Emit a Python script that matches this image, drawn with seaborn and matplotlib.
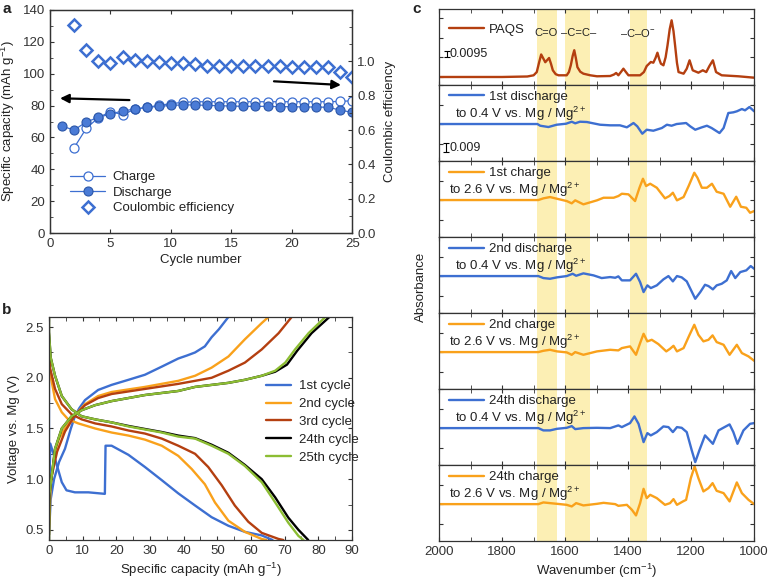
import numpy as np
import matplotlib
matplotlib.use("Agg")
import matplotlib.pyplot as plt
from matplotlib.ticker import MultipleLocator, NullFormatter, FormatStrFormatter
import seaborn as sns

# ---------------- data: panel a (cycling) ----------------
cycles_dis = list(range(1, 26))
discharge_cap = [67, 64.7, 69.7, 72.6, 74.7, 76.6, 77.8, 78.9, 79.5, 80.1, 80.4, 80.4, 80.1,
                 79.9, 79.7, 79.5, 79.5, 79.5, 79.3, 79.3, 79.1, 79.1, 78.9, 77.2, 75.7]
cycles_ch = list(range(2, 26))
charge_cap = [53.6, 65.7, 72.4, 76.2, 74.3, 77.6, 78.9, 80.1, 81.2, 82.0, 82.4, 82.4, 82.4,
              82.4, 82.4, 82.4, 82.4, 82.4, 82.4, 82.4, 82.4, 82.4, 82.6, 83.0]
coulombic_eff = [1.21, 1.068, 1.002, 0.99, 1.025, 1.01, 1.0, 0.994, 0.992, 0.988, 0.982, 0.975,
                 0.975, 0.975, 0.975, 0.973, 0.973, 0.971, 0.969, 0.969, 0.969, 0.969, 0.94, 0.91]

# ---------------- data: panel b (voltage profiles) ----------------
c1_dis_cap = [0, 0, 0.4, 1.8, 3.8, 5.2, 7.7, 11.7, 16.6, 16.8, 18.6, 23.6, 28.5, 33.5, 38.4,
              43.4, 48.3, 53.3, 58.2, 63.2, 66.4]
c1_dis_v = [2.2, 0.84, 1.35, 1.2, 0.97, 0.89, 0.87, 0.87, 0.855, 1.33, 1.33, 1.24, 1.12, 0.99,
            0.86, 0.74, 0.625, 0.54, 0.48, 0.445, 0.4]
c1_ch_cap = [0, 0.5, 1.5, 3, 4.75, 6.5, 7.7, 9, 10.7, 14.6, 18.6, 23.6, 28.5, 33.5, 38.4, 41,
             43.4, 46.3, 48.3, 50.5, 53.3]
c1_ch_v = [0.45, 0.8, 1.0, 1.17, 1.3, 1.5, 1.62, 1.7, 1.78, 1.88, 1.93, 1.98, 2.03, 2.11, 2.19,
           2.22, 2.25, 2.31, 2.4, 2.48, 2.6]

c2_dis_cap = [0, 0.3, 1.8, 3.8, 5.7, 8.7, 13.7, 18.6, 23.6, 28.5, 33.5, 38.4, 42.4, 46.3, 49.3,
              53.3, 58.2, 63.2, 64.6]
c2_dis_v = [2.25, 2.05, 1.79, 1.66, 1.59, 1.55, 1.50, 1.46, 1.43, 1.39, 1.33, 1.23, 1.10, 0.95,
            0.77, 0.59, 0.48, 0.41, 0.40]
c2_ch_cap = [0, 0.5, 1.8, 3, 4.75, 7.7, 10.7, 14.6, 18.6, 28.5, 38.4, 43.4, 48.3, 53.3, 58.2,
             63.2, 65.2]
c2_ch_v = [0.45, 0.95, 1.27, 1.4, 1.5, 1.63, 1.74, 1.82, 1.86, 1.91, 1.97, 2.02, 2.10, 2.21,
           2.38, 2.54, 2.6]

c3_dis_cap = [0, 0.3, 1.8, 3.8, 6.7, 9.7, 13.7, 18.6, 23.6, 28.5, 33.5, 38.4, 43.4, 47.3, 51.3,
              55.2, 59.2, 63.2, 68.2, 69.6]
c3_dis_v = [2.3, 2.1, 1.89, 1.74, 1.64, 1.59, 1.55, 1.52, 1.48, 1.45, 1.40, 1.33, 1.25, 1.12,
            0.94, 0.74, 0.58, 0.47, 0.41, 0.40]
c3_ch_cap = [0, 0.4, 2.4, 4.75, 7.7, 10.7, 14.6, 18.6, 28.5, 38.4, 43.4, 48.3, 53.3, 58.2,
             63.2, 68.2, 72.1]
c3_ch_v = [0.7, 0.97, 1.27, 1.47, 1.63, 1.73, 1.80, 1.84, 1.89, 1.94, 1.97, 2.0, 2.07, 2.15,
           2.28, 2.44, 2.6]

c24_dis_cap = [0, 0, 0.5, 1.8, 3.8, 6.7, 9.7, 13.7, 18.6, 23.6, 28.5, 33.5, 38.4, 43.4, 48.3,
               53.3, 58.2, 63.2, 67.2, 71.1, 74.1, 77.0]
c24_dis_v = [2.6, 2.45, 2.2, 2.02, 1.82, 1.69, 1.62, 1.59, 1.56, 1.525, 1.495, 1.465, 1.43,
             1.405, 1.34, 1.26, 1.14, 1.0, 0.82, 0.62, 0.5, 0.40]
c24_ch_cap = [0, 0.1, 1.8, 3.8, 6.7, 9.7, 13.7, 18.6, 28.5, 38.4, 43.4, 53.3, 58.2, 63.2, 67.2,
              70.7, 73.8, 78.0, 83.3]
c24_ch_v = [0.4, 0.84, 1.30, 1.50, 1.62, 1.68, 1.73, 1.77, 1.83, 1.87, 1.91, 1.95, 1.98, 2.02,
            2.06, 2.13, 2.27, 2.44, 2.6]

c25_dis_cap = [0, 0, 0.5, 1.8, 3.8, 6.7, 9.7, 13.7, 18.6, 23.6, 28.5, 33.5, 38.4, 43.4, 48.3,
               53.3, 58.2, 63.2, 67.2, 71.1, 74.1, 75.6]
c25_dis_v = [2.6, 2.45, 2.2, 2.02, 1.82, 1.69, 1.62, 1.59, 1.56, 1.52, 1.49, 1.46, 1.42, 1.40,
             1.33, 1.25, 1.13, 0.97, 0.77, 0.57, 0.44, 0.40]
c25_ch_cap = [0, 0.1, 1.8, 3.8, 6.7, 9.7, 13.7, 18.6, 28.5, 38.4, 43.4, 53.3, 58.2, 63.2, 67.2,
              70.2, 73.1, 77.1, 82.1]
c25_ch_v = [0.4, 0.84, 1.30, 1.50, 1.62, 1.68, 1.73, 1.77, 1.83, 1.87, 1.91, 1.95, 1.98, 2.02,
            2.07, 2.15, 2.28, 2.44, 2.6]

cycle_labels = ["1st cycle", "2nd cycle", "3rd cycle", "24th cycle", "25th cycle"]

# ---------------- data: panel c (IR spectra, absorbance in 1e-3) ----------------
paqs_wn = [2000, 1800, 1720, 1700, 1690, 1683, 1676, 1663, 1651, 1645, 1639, 1630, 1621, 1595,
           1588, 1582, 1576, 1571, 1566, 1561, 1552, 1542, 1520, 1499, 1457, 1445, 1438, 1431,
           1423, 1415, 1407, 1399, 1362, 1350, 1341, 1328, 1320, 1313, 1307, 1301, 1296, 1288,
           1281, 1275, 1268, 1262, 1256, 1251, 1245, 1240, 1224, 1214, 1205, 1195, 1177, 1163,
           1152, 1142, 1131, 1121, 1103, 1050, 1000]
paqs_abs = [0, 0, 0.7, 2.4, 7, 20, 32, 21, 27, 19, 9.5, 4, 2.4, 2.4,
            7, 16.6, 30, 38, 27, 14, 7.5, 4.7, 2.4, 1, 1.4, 3.5, 5.7, 2.4,
            7, 11.8, 7, 2.4, 2.4, 7, 15.6, 21.3, 20.3, 27, 34.5, 25, 18.9, 16.6,
            28, 45, 68, 80.5, 65, 45, 20, 7, 4.7, 11.8, 23.7, 9.5, 6.1, 9.5,
            7, 15.6, 23.7, 7, 2.4, 1, -1]

dis1_wn = [2000, 1688, 1679, 1653, 1627, 1597, 1579, 1568, 1553, 1531, 1489, 1457, 1426, 1404,
           1383, 1371, 1355, 1341, 1320, 1293, 1277, 1262, 1246, 1216, 1203, 1187, 1166, 1150,
           1135, 1110, 1097, 1082, 1066, 1055, 1039, 1029, 1015, 1000]
dis1_abs = [0, 0, -1.7, -3, -0.7, 0.3, 2.3, 0.7, 2.3, 2, -0.7, -1.3, -1.3, -3.3,
            1, -2.3, -9.7, -5.7, -6.7, -4, -0.7, -1.7, 0, 1, -2.3, -5.7, -3.3, -1.7,
            -4, -9, -4, 11, 11.7, 12.7, 15, 13.7, 17, 12.7]

ch1_wn = [2000, 1685, 1669, 1648, 1626, 1595, 1579, 1568, 1542, 1499, 1478, 1446, 1431, 1420,
          1399, 1378, 1364, 1353, 1343, 1330, 1309, 1283, 1269, 1258, 1245, 1224, 1208, 1190,
          1180, 1166, 1150, 1134, 1119, 1097, 1076, 1057, 1042, 1025, 1013, 1000]
ch1_abs = [0, 0, 1.7, 3, 1.3, -1, -3.3, -0.3, -4.3, -0.3, 2.3, 2.3, 4, 6.3,
           5.7, -1, 12.3, 21.3, 14, 16.3, 12.3, 1.7, 4, 7.3, -0.3, 3, 14, 27.3,
           22.3, 12.3, 12.3, 16.3, 8.3, 6.3, -6.7, 3.3, -6.7, -7.7, -12.7, -11]

dis2_wn = [2000, 1685, 1669, 1648, 1626, 1595, 1576, 1565, 1542, 1510, 1484, 1457, 1441, 1431,
           1420, 1394, 1375, 1362, 1351, 1339, 1328, 1309, 1288, 1272, 1258, 1245, 1230, 1214,
           1187, 1171, 1156, 1145, 1131, 1119, 1103, 1087, 1073, 1060, 1044, 1025, 1011, 1000]
dis2_abs = [0, 0, -2, -2.7, -1.3, 0, 2.3, 0.3, 2.7, 0.7, -2, -1, -1.7, -0.3,
            -4.3, -4.3, 2.3, -6, -16, -9.3, -12, -9.3, -3.3, 0, -5.3, 0, -1.3, -5.3,
            -22.7, -16, -8.7, -10, -13.3, -9.3, -7.7, -4.3, 5, -2, 4, 5.7, 10, 7.3]

ch2_wn = [2000, 1685, 1669, 1648, 1626, 1595, 1579, 1568, 1542, 1499, 1457, 1431, 1420, 1394,
          1375, 1362, 1351, 1339, 1325, 1304, 1279, 1267, 1256, 1245, 1224, 1205, 1190, 1177,
          1161, 1145, 1132, 1119, 1097, 1078, 1055, 1039, 1018, 1000]
ch2_abs = [0, 0, 1.3, 2.3, 0.7, -0.3, -2.7, 0, -2.7, 0.7, 2.3, 1.7, 4, 5.7,
           -2.7, 9, 18.3, 10.7, 12.3, 8, 0.7, 3.3, 6.3, 0.7, 4, 17.3, 27.3, 17.3,
           10.7, 12.3, 16.7, 10, 7.3, -2.7, 7.3, -1, -4.3, -8.7]

dis24_wn = [2000, 1685, 1669, 1648, 1626, 1595, 1579, 1568, 1542, 1499, 1457, 1431, 1420, 1394,
            1380, 1367, 1351, 1339, 1328, 1309, 1288, 1272, 1258, 1245, 1230, 1214, 1198, 1187,
            1174, 1156, 1131, 1113, 1094, 1078, 1066, 1053, 1034, 1013, 1000]
dis24_abs = [0, 0, -2.3, -2.3, -0.7, 0.3, 2, -1, 0, 0.3, 0, 2.7, 1, 5,
             11.7, 4.3, -14, -5, -7.3, -4, 1.7, 1, -4, 1, 0.3, -4, -22.3, -34,
             -22.3, -7.3, -15.7, -2.3, 1, 3.7, -4, -15.7, -2.3, 4.3, 5]

ch24_wn = [2000, 1685, 1669, 1648, 1616, 1595, 1579, 1565, 1542, 1499, 1478, 1441, 1431, 1404,
           1388, 1375, 1362, 1351, 1341, 1330, 1309, 1283, 1267, 1256, 1245, 1226, 1216, 1201,
           1189, 1177, 1161, 1145, 1132, 1119, 1097, 1078, 1055, 1039, 1018, 1000]
ch24_abs = [0, 0, 1.7, 1, 0, -0.7, -2.3, 1, -1.3, 0.3, 1.3, 0, -1.7, -0.7,
            -5.7, -11.3, 1, 15.3, 6, 9.3, 6, -0.7, 1, 5, -0.7, 2.7, 4.3, 26,
            37.7, 26, 12.7, 16, 21, 13.3, 11, 2.7, 21.7, 11, 4.3, 0]

spec_labels = ["PAQS", "1st discharge", "1st charge", "2nd discharge", "2nd charge",
               "24th discharge", "24th charge"]
spec_sub = [None, "to 0.4 V vs. Mg / Mg$^{2+}$", "to 2.6 V vs. Mg / Mg$^{2+}$",
            "to 0.4 V vs. Mg / Mg$^{2+}$", "to 2.6 V vs. Mg / Mg$^{2+}$",
            "to 0.4 V vs. Mg / Mg$^{2+}$", "to 2.6 V vs. Mg / Mg$^{2+}$"]
bands = [(1690, 1625), (1600, 1520), (1395, 1340)]
band_labels = ["C=O", "–C=C–", "–C–O$^{-}$"]
band_label_x = [1660, 1556, 1370]

# ---------------- style ----------------
sns.set_style("ticks")
plt.rcParams["font.family"] = ["Liberation Sans", "DejaVu Sans"]
plt.rcParams.update({
    "mathtext.fontset": "custom",
    "mathtext.rm": "Liberation Sans",
    "mathtext.it": "Liberation Sans:italic",
    "mathtext.bf": "Liberation Sans:bold",
    "font.size": 9.5,
    "axes.linewidth": 0.9,
    "axes.edgecolor": "#333333",
    "xtick.color": "#333333",
    "ytick.color": "#333333",
    "axes.labelcolor": "#222222",
    "text.color": "#222222",
})

blue = "#3d6fd1"
orange = "#f9a11b"
red = "#b43f10"
green = "#8cbd33"
band_color = "#fcefb4"

fig = plt.figure(figsize=(7.69, 5.8), dpi=100)

# ---------------- panel a ----------------
ax_a = fig.add_axes([0.065, 0.598, 0.393, 0.385])
ax_a2 = ax_a.twinx()
sns.lineplot(x=cycles_ch, y=charge_cap, ax=ax_a, color=blue, lw=0.9, marker="o", markersize=6.5,
             markerfacecolor="white", markeredgecolor=blue, markeredgewidth=0.9, label="Charge")
sns.lineplot(x=cycles_dis, y=discharge_cap, ax=ax_a, color=blue, lw=0.9, marker="o", markersize=6.5,
             markerfacecolor="#4a7bd6", markeredgecolor="#2b56a8", markeredgewidth=0.8,
             label="Discharge")
sns.lineplot(x=cycles_ch, y=coulombic_eff, ax=ax_a2, color=blue, ls="none", marker="D",
             markersize=6, markerfacecolor="white", markeredgecolor=blue, markeredgewidth=1.8,
             label="Coulombic efficiency")
ax_a.set_xlim(0, 25)
ax_a.set_ylim(0, 140)
ax_a2.set_ylim(0, 1.3)
ax_a.xaxis.set_major_locator(MultipleLocator(5))
ax_a.yaxis.set_major_locator(MultipleLocator(20))
ax_a.yaxis.set_minor_locator(MultipleLocator(10))
ax_a2.set_yticks([0, 0.2, 0.4, 0.6, 0.8, 1.0])
ax_a2.yaxis.set_minor_locator(MultipleLocator(0.1))
ax_a2.yaxis.set_major_formatter(FormatStrFormatter("%.1f"))
ax_a.tick_params(direction="in", top=True, which="both", length=3)
ax_a.tick_params(which="minor", length=2)
ax_a2.tick_params(direction="in", which="both", length=3)
ax_a2.tick_params(which="minor", length=2)
ax_a.set_xlabel("Cycle number", labelpad=3)
ax_a.set_ylabel("Specific capacity (mAh g$^{-1}$)", labelpad=4)
ax_a2.set_ylabel("Coulombic efficiency", rotation=90, labelpad=6)
h1, l1 = ax_a.get_legend_handles_labels()
h2, l2 = ax_a2.get_legend_handles_labels()
if ax_a.get_legend():
    ax_a.get_legend().remove()
ax_a2.legend(h1 + h2, l1 + l2, loc="lower left", bbox_to_anchor=(0.05, 0.06), frameon=False,
             handlelength=2.6, handletextpad=0.6, labelspacing=0.25, borderaxespad=0)
ax_a.annotate("", xy=(0.6, 84.6), xytext=(6.8, 83.4),
              arrowprops=dict(arrowstyle="-|>", color="black", lw=1.6, mutation_scale=13))
ax_a.annotate("", xy=(24.3, 92.8), xytext=(18.3, 95.3),
              arrowprops=dict(arrowstyle="-|>", color="black", lw=1.6, mutation_scale=13))

# ---------------- panel b ----------------
ax_b = fig.add_axes([0.0637, 0.069, 0.394, 0.3845])
curves = [
    (c1_dis_cap, c1_dis_v, c1_ch_cap, c1_ch_v, blue),
    (c2_dis_cap, c2_dis_v, c2_ch_cap, c2_ch_v, orange),
    (c3_dis_cap, c3_dis_v, c3_ch_cap, c3_ch_v, red),
    (c24_dis_cap, c24_dis_v, c24_ch_cap, c24_ch_v, "black"),
    (c25_dis_cap, c25_dis_v, c25_ch_cap, c25_ch_v, green),
]
for (dc, dv, cc, cv, col), lab in zip(curves, cycle_labels):
    sns.lineplot(x=dc, y=dv, ax=ax_b, color=col, lw=1.7, sort=False, estimator=None, label=lab)
    sns.lineplot(x=cc, y=cv, ax=ax_b, color=col, lw=1.7, sort=False, estimator=None)
ax_b.set_xlim(0, 90)
ax_b.set_ylim(0.4, 2.6)
ax_b.xaxis.set_major_locator(MultipleLocator(10))
ax_b.xaxis.set_minor_locator(MultipleLocator(5))
ax_b.yaxis.set_major_locator(MultipleLocator(0.5))
ax_b.yaxis.set_minor_locator(MultipleLocator(0.25))
ax_b.tick_params(direction="in", top=True, right=True, which="both", length=3)
ax_b.set_xlabel("Specific capacity (mAh g$^{-1}$)", labelpad=3)
ax_b.set_ylabel("Voltage vs. Mg (V)", labelpad=4)
ax_b.legend(loc="upper left", bbox_to_anchor=(0.70, 0.74), frameon=False, handlelength=1.9,
            handletextpad=0.6, labelspacing=0.42, borderaxespad=0)

# ---------------- panel c ----------------
spectra = [
    (paqs_wn, paqs_abs, red),
    (dis1_wn, dis1_abs, blue),
    (ch1_wn, ch1_abs, orange),
    (dis2_wn, dis2_abs, blue),
    (ch2_wn, ch2_abs, orange),
    (dis24_wn, dis24_abs, blue),
    (ch24_wn, ch24_abs, orange),
]
c_left, c_width, c_bottom, c_top = 0.571, 0.4097, 0.067, 0.9845
c_h = (c_top - c_bottom) / 7
axes_c = []
for i, ((wn, ab, col), lab, sub) in enumerate(zip(spectra, spec_labels, spec_sub)):
    ax = fig.add_axes([c_left, c_top - (i + 1) * c_h, c_width, c_h])
    axes_c.append(ax)
    for b0, b1 in bands:
        ax.axvspan(b1, b0, color=band_color, lw=0, zorder=0)
    sns.lineplot(x=wn, y=ab, ax=ax, color=col, lw=1.7, sort=False, estimator=None, label=lab)
    ax.set_xlim(2000, 1000)
    if i == 0:
        ax.set_ylim(-11.4, 96.6)
        ax.yaxis.set_major_locator(MultipleLocator(27.7))
    else:
        ax.set_ylim(-37, 39)
        ax.yaxis.set_major_locator(MultipleLocator(19.5))
    ax.yaxis.set_major_formatter(NullFormatter())
    ax.xaxis.set_major_locator(MultipleLocator(200))
    ax.xaxis.set_minor_locator(MultipleLocator(100))
    ax.tick_params(direction="in", top=True, right=True, which="both", length=3)
    ax.set_ylabel("")
    if i < 6:
        ax.xaxis.set_major_formatter(NullFormatter())
    top_y = 0.86 if i == 0 else 0.975
    ax.legend(loc="upper left", bbox_to_anchor=(0.02, top_y), frameon=False, borderpad=0.3,
              handlelength=2.6, handletextpad=0.4, borderaxespad=0, fontsize=9.5)
    if sub is not None:
        sx = 0.05 if "discharge" in lab else 0.03
        ax.text(sx, 0.62, sub, transform=ax.transAxes, ha="left", va="center", fontsize=9.5)

ax0 = axes_c[0]
ax0.errorbar([1975], [32.7], yerr=[4.75], color="black", lw=0.8, capsize=2, capthick=0.8)
ax0.text(1968, 32.7, "0.0095", ha="left", va="center", fontsize=9)
for lab, x in zip(band_labels, band_label_x):
    ax0.text(x, 62, lab, ha="center", va="center", fontsize=8)
ax1 = axes_c[1]
ax1.errorbar([1977], [-23.7], yerr=[4.5], color="black", lw=0.8, capsize=2, capthick=0.8)
ax1.text(1968, -23.7, "0.009", ha="left", va="center", fontsize=9)
axes_c[-1].set_xlabel("Wavenumber (cm$^{-1}$)", labelpad=3)
fig.text(0.548, 0.505, "Absorbance", rotation=90, ha="center", va="center", fontsize=9.5)

# panel letters
fig.text(0.003, 0.997, "a", weight="bold", fontsize=11, va="top")
fig.text(0.003, 0.478, "b", weight="bold", fontsize=11, va="top")
fig.text(0.536, 0.997, "c", weight="bold", fontsize=11, va="top")

fig.savefig("out.png", dpi=100)
